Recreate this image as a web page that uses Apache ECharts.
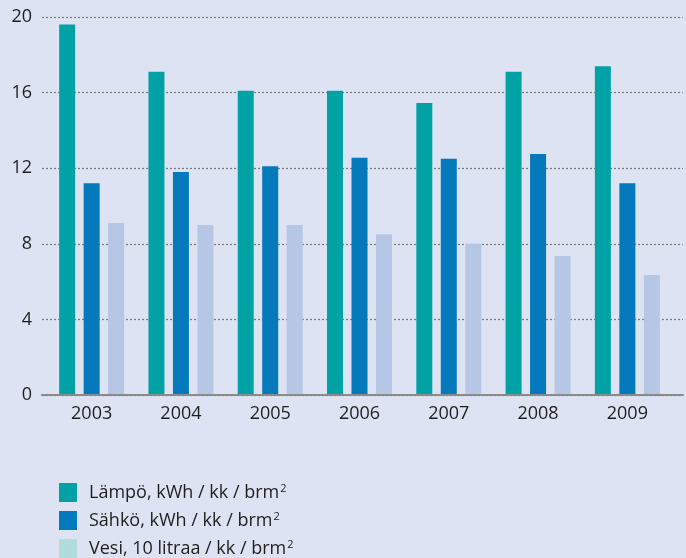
<!DOCTYPE html>
<html>
<head>
<meta charset="utf-8">
<script src="https://cdn.jsdelivr.net/npm/echarts@6/dist/echarts.min.js"></script>
<style>
  html, body { margin: 0; padding: 0; background: #dde3f2; }
  #chart { width: 686px; height: 558px; }
</style>
</head>
<body>
<div id="chart"></div>
<script>
// Kulutus per vuosi: lämpö, sähkö, vesi
const years = ['2003', '2004', '2005', '2006', '2007', '2008', '2009']
const lampo = [19.6, 17.1, 16.1, 16.1, 15.45, 17.1, 17.4]
const sahko = [11.2, 11.8, 12.1, 12.55, 12.5, 12.75, 11.2]
const vesi = [9.1, 9.0, 9.0, 8.5, 8.0, 7.35, 6.35]
const yTicks = [0, 4, 8, 12, 16, 20]

const NAMES = ['Lämpö, kWh / kk / brm', 'Sähkö, kWh / kk / brm', 'Vesi, 10 litraa / kk / brm']
const C = { lampo: '#00a2a6', sahko: '#0479bb', vesi: '#b5c7e4', vesiLegend: '#b1dcdc' }
const FONT = '"Open Sans", "Noto Sans", sans-serif'

const chart = echarts.init(document.getElementById('chart'))
const bar = (name, data, color) => ({
  type: 'bar', name, data, xAxisIndex: 1, yAxisIndex: 1,
  barWidth: 16, barGap: '53%', itemStyle: { color }, z: 1
})

chart.setOption({
  backgroundColor: '#dde3f2',
  animation: false,
  textStyle: { fontFamily: FONT },
  grid: [
    { left: 42, right: 3, top: 17, bottom: 163 },
    { left: 47, width: 625, top: 17, bottom: 163 }
  ],
  xAxis: [
    { type: 'value', gridIndex: 0, min: 0, max: 1, axisLabel: { show: false }, axisTick: { show: false },
      splitLine: { show: false }, axisLine: { onZero: false, lineStyle: { color: '#8a8a8a', width: 2 } }, z: 5 },
    { type: 'category', gridIndex: 1, data: years, axisLine: { show: false }, axisTick: { show: false },
      axisLabel: { color: '#1e1e1e', fontSize: 18, margin: 10, fontFamily: FONT } }
  ],
  yAxis: [
    { type: 'value', gridIndex: 0, min: yTicks[0], max: yTicks[yTicks.length - 1], interval: 4,
      axisLine: { show: false }, axisTick: { show: false },
      axisLabel: { color: '#1e1e1e', fontSize: 18, margin: 10, fontFamily: FONT },
      splitLine: { lineStyle: { color: '#7a7a7a', type: [2, 2], width: 1.2 } } },
    { type: 'value', gridIndex: 1, min: 0, max: 20, show: false, splitLine: { show: false } }
  ],
  legend: {
    orient: 'vertical', left: 59, top: 483, height: 120, padding: 0,
    itemWidth: 18, itemHeight: 19, itemGap: 9,
    icon: 'rect', selectedMode: false,
    data: [
      { name: NAMES[0] },
      { name: NAMES[1] },
      { name: NAMES[2], itemStyle: { color: C.vesiLegend } }
    ],
    formatter: n => n + '{sup|2}',
    textStyle: {
      color: '#1e1e1e', fontSize: 18, fontFamily: FONT, padding: [0, 0, 0, 7],
      rich: { sup: { fontSize: 11, fontFamily: FONT, color: '#1e1e1e', verticalAlign: 'top', padding: [0, 0, 7, 1] } }
    }
  },
  series: [
    bar(NAMES[0], lampo, C.lampo),
    bar(NAMES[1], sahko, C.sahko),
    bar(NAMES[2], vesi, C.vesi)
  ]
})
</script>
</body>
</html>
